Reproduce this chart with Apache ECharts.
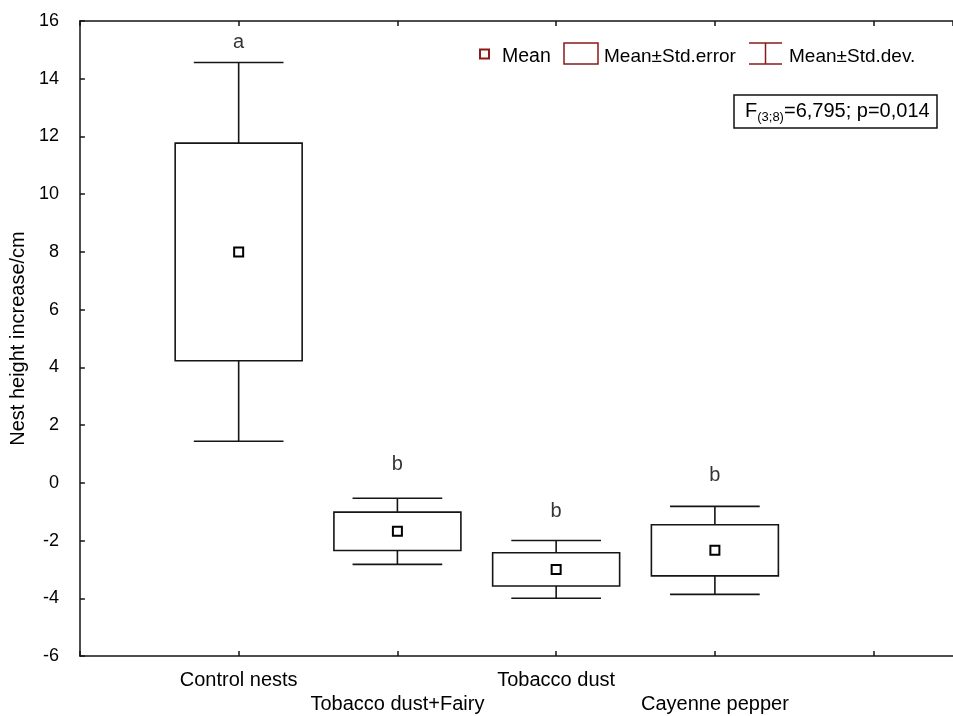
<!DOCTYPE html>
<html>
<head>
<meta charset="utf-8">
<script src="https://cdn.jsdelivr.net/npm/echarts@6/dist/echarts.min.js"></script>
<style>
html,body{margin:0;padding:0;background:#fff;}
#chart{width:953px;height:716px;}
</style>
</head>
<body>
<div id="chart"></div>
<script>
const categories = ['Control nests', 'Tobacco dust+Fairy', 'Tobacco dust', 'Cayenne pepper'];
const means = [8.0, -1.68, -3.0, -2.34];
const stdErr = [3.77, 0.665, 0.575, 0.885];
const stdDev = [6.56, 1.145, 1.0, 1.525];
const letters = ['a', 'b', 'b', 'b'];
const letterY = [15.24, 0.63, -0.99, 0.25];
const yMin = -6, yMax = 16, yStep = 2;
const legendLabels = ['Mean', 'Mean\u00b1Std.error', 'Mean\u00b1Std.dev.'];
const statText = { main: 'F', sub: '(3;8)', rest: '=6,795; p=0,014' };

const FONT = 'Liberation Sans, Arial, sans-serif';
const LINE = '#151515';
const LEG = '#8b1a1a';

const chart = echarts.init(document.getElementById('chart'), null, { renderer: 'canvas' });

const rows = categories.map((c, i) => [i + 1, means[i], stdErr[i], stdDev[i]]);

const option = {
  animation: false,
  backgroundColor: '#fff',
  textStyle: { fontFamily: FONT, color: '#000' },
  grid: { left: 77, top: 21, width: 887, height: 640, containLabel: false },
  xAxis: [{
    type: 'value', min: 0, max: 5.5, interval: 1, position: 'bottom',
    axisLine: { show: true, onZero: false, lineStyle: { color: LINE, width: 1.5 } },
    axisTick: { show: true, inside: true, length: 5, lineStyle: { color: LINE, width: 1.5 } },
    splitLine: { show: false },
    axisLabel: {
      show: true, fontSize: 20, fontFamily: FONT, color: '#000', margin: 12, lineHeight: 24,
      showMaxLabel: false,
      formatter: function (v) {
        const i = Math.round(v) - 1;
        if (i < 0 || i >= categories.length) return '';
        return i % 2 ? '\n' + categories[i] : categories[i];
      }
    }
  }, {
    type: 'value', min: 0, max: 5.5, interval: 1, position: 'top',
    axisLine: { show: true, onZero: false, lineStyle: { color: LINE, width: 1.5 } },
    axisTick: { show: true, inside: true, length: 5, lineStyle: { color: LINE, width: 1.5 } },
    splitLine: { show: false },
    axisLabel: { show: false }
  }],
  yAxis: {
    type: 'value', min: yMin, max: yMax, interval: yStep,
    name: 'Nest height increase/cm', nameLocation: 'middle', nameGap: 46,
    nameTextStyle: { fontSize: 20, fontFamily: FONT, color: '#000' },
    axisLine: { show: true, onZero: false, lineStyle: { color: LINE, width: 1.5 } },
    axisTick: { show: true, inside: true, length: 5, lineStyle: { color: LINE, width: 1.5 } },
    splitLine: { show: false },
    axisLabel: { fontSize: 18, fontFamily: FONT, color: '#000', margin: 21 }
  },
  series: [
    {
      name: legendLabels[2], type: 'custom', data: rows,
      renderItem: function (params, api) {
        const x = api.value(0), m = api.value(1), se = api.value(2), sd = api.value(3);
        const capW = api.size([0.565, 0])[0];
        const pTopBox = api.coord([x, m + se]);
        const pTop = api.coord([x, m + sd]);
        const pBotBox = api.coord([x, m - se]);
        const pBot = api.coord([x, m - sd]);
        const st = { stroke: LINE, lineWidth: 1.6 };
        return {
          type: 'group',
          children: [
            { type: 'line', shape: { x1: pTop[0], y1: pTop[1], x2: pTopBox[0], y2: pTopBox[1] }, style: st },
            { type: 'line', shape: { x1: pTop[0] - capW / 2, y1: pTop[1], x2: pTop[0] + capW / 2, y2: pTop[1] }, style: st },
            { type: 'line', shape: { x1: pBot[0], y1: pBot[1], x2: pBotBox[0], y2: pBotBox[1] }, style: st },
            { type: 'line', shape: { x1: pBot[0] - capW / 2, y1: pBot[1], x2: pBot[0] + capW / 2, y2: pBot[1] }, style: st }
          ]
        };
      }
    },
    {
      name: legendLabels[1], type: 'custom', data: rows,
      renderItem: function (params, api) {
        const x = api.value(0), m = api.value(1), se = api.value(2);
        const t = api.coord([x, m + se]);
        const b = api.coord([x, m - se]);
        const w = api.size([0.8, 0])[0];
        return {
          type: 'rect',
          shape: { x: t[0] - w / 2, y: t[1], width: w, height: b[1] - t[1] },
          style: { fill: '#fff', stroke: LINE, lineWidth: 1.6 }
        };
      }
    },
    {
      name: legendLabels[0], type: 'scatter', z: 5,
      data: categories.map((c, i) => [i + 1, means[i]]),
      symbol: 'rect', symbolSize: 9,
      itemStyle: { color: '#fff', borderColor: '#000', borderWidth: 2, opacity: 1 }
    },
    {
      name: 'letters', type: 'scatter', z: 6,
      data: categories.map((c, i) => [i + 1, letterY[i]]),
      symbolSize: 0,
      label: {
        show: true, position: 'inside', fontSize: 20, fontFamily: FONT, color: '#000',
        formatter: function (p) { return letters[p.dataIndex]; }
      }
    }
  ],
  graphic: [
    { type: 'rect', shape: { x: 480, y: 49.5, width: 9, height: 9 }, style: { fill: '#fff6f6', stroke: LEG, lineWidth: 2 } },
    { type: 'text', x: 502, y: 57, style: { text: legendLabels[0], font: '19.5px ' + FONT, fill: '#000', verticalAlign: 'middle' } },
    { type: 'rect', shape: { x: 564, y: 43, width: 34, height: 21 }, style: { fill: 'none', stroke: LEG, lineWidth: 1.5 } },
    { type: 'text', x: 604, y: 57, style: { text: legendLabels[1], font: '19px ' + FONT, fill: '#000', verticalAlign: 'middle' } },
    { type: 'line', shape: { x1: 749, y1: 43, x2: 782, y2: 43 }, style: { stroke: LEG, lineWidth: 1.5 } },
    { type: 'line', shape: { x1: 749, y1: 64, x2: 782, y2: 64 }, style: { stroke: LEG, lineWidth: 1.5 } },
    { type: 'line', shape: { x1: 765.5, y1: 43, x2: 765.5, y2: 64 }, style: { stroke: LEG, lineWidth: 1.5 } },
    { type: 'text', x: 789, y: 57, style: { text: legendLabels[2], font: '19px ' + FONT, fill: '#000', verticalAlign: 'middle' } },
    { type: 'rect', shape: { x: 734, y: 95, width: 203, height: 33 }, style: { fill: '#fff', stroke: '#111', lineWidth: 1.5 } },
    {
      type: 'text', x: 745, y: 111,
      style: {
        text: '{n|' + statText.main + '}{s|' + statText.sub + '}{n|' + statText.rest + '}',
        verticalAlign: 'middle',
        rich: {
          n: { fontSize: 20, fontFamily: FONT, lineHeight: 26, fill: '#000' },
          s: { fontSize: 13, fontFamily: FONT, lineHeight: 13, verticalAlign: 'bottom', fill: '#000' }
        }
      }
    }
  ]
};
chart.setOption(option);
</script>
</body>
</html>
